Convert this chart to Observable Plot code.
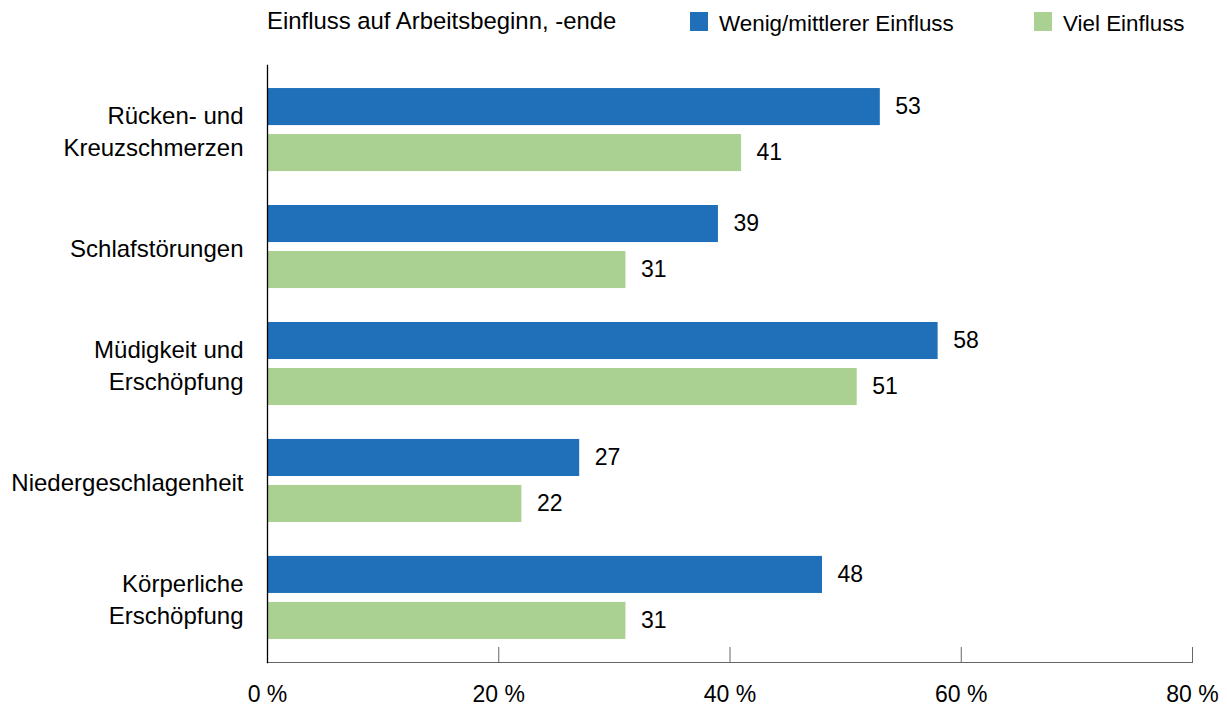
<!DOCTYPE html>
<html><head><meta charset="utf-8">
<script src="https://cdn.jsdelivr.net/npm/d3@7"></script>
<script src="https://cdn.jsdelivr.net/npm/@observablehq/plot@0.6"></script>
<style>
body{margin:0;background:#fff;font-family:"Liberation Sans",Arial,sans-serif;}
#head{position:relative;width:1227px;height:60px;color:#000;}
#head .t{position:absolute;white-space:nowrap;}
#head .sw{position:absolute;width:18px;height:19px;}
</style></head><body>
<div id="head"></div>
<div id="chart"></div>
<script>
const title = "Einfluss auf Arbeitsbeginn, -ende";
const categories = ["Rücken- und\nKreuzschmerzen","Schlafstörungen","Müdigkeit und\nErschöpfung","Niedergeschlagenheit","Körperliche\nErschöpfung"];
const series = ["Wenig/mittlerer Einfluss","Viel Einfluss"];
const valuesWenig = [53,39,58,27,48];
const valuesViel = [41,31,51,22,31];
const xTicks = [0,20,40,60,80];
const colors = ["#1f70b8","#abd192"];

const dataWenig = categories.map((c,i)=>({cat:c, series:series[0], value:valuesWenig[i]}));
const dataViel = categories.map((c,i)=>({cat:c, series:series[1], value:valuesViel[i]}));

// header: title + legend
const head = document.getElementById("head");
const t = document.createElement("div");
t.className="t"; t.style.left="267px"; t.style.top="9px"; t.style.fontSize="23.9px"; t.style.lineHeight="24px"; t.textContent=title;
head.appendChild(t);
const legendX = [690, 1034];
series.forEach((s,i)=>{
  const sw=document.createElement("div");
  sw.className="sw"; sw.style.left=legendX[i]+"px"; sw.style.top="12px"; sw.style.background=colors[i];
  head.appendChild(sw);
  const lt=document.createElement("div");
  lt.className="t"; lt.style.left=(legendX[i]+29)+"px"; lt.style.top="12px"; lt.style.fontSize="22.4px"; lt.style.lineHeight="23px"; lt.textContent=s;
  head.appendChild(lt);
});

const chart = Plot.plot({
  width:1227, height:647,
  marginLeft:267, marginRight:35, marginTop:5, marginBottom:45,
  style:{fontFamily:'"Liberation Sans",Arial,sans-serif', fontSize:"23px", color:"#000", background:"#fff"},
  x:{domain:[0,80], axis:null},
  y:{domain:categories, paddingInner:0.29, paddingOuter:0.197, round:false, axis:null},
  color:{domain:series, range:colors},
  marks:[
    Plot.barX(dataWenig,{x:"value", y:"cat", fill:"series", insetBottom:46}),
    Plot.barX(dataViel,{x:"value", y:"cat", fill:"series", insetTop:46}),
    Plot.text(dataWenig,{x:"value", y:"cat", text:d=>String(d.value), dx:15, dy:-23, textAnchor:"start", fill:"#000", fontSize:23}),
    Plot.text(dataViel,{x:"value", y:"cat", text:d=>String(d.value), dx:15, dy:23, textAnchor:"start", fill:"#000", fontSize:23}),
    Plot.axisY({tickSize:0, tickPadding:24, label:null, fontSize:24, lineHeight:1.333, fill:"#000"}),
    Plot.axisX({ticks:xTicks, tickSize:-15, tickPadding:38, stroke:"#666", label:null, tickFormat:d=>d+" %", fill:"#000", fontSize:23}),
    Plot.frame({anchor:"bottom", stroke:"#666"}),
    Plot.frame({anchor:"left", stroke:"#000", strokeWidth:1.3})
  ]
});
document.getElementById("chart").appendChild(chart);
</script>
</body></html>
